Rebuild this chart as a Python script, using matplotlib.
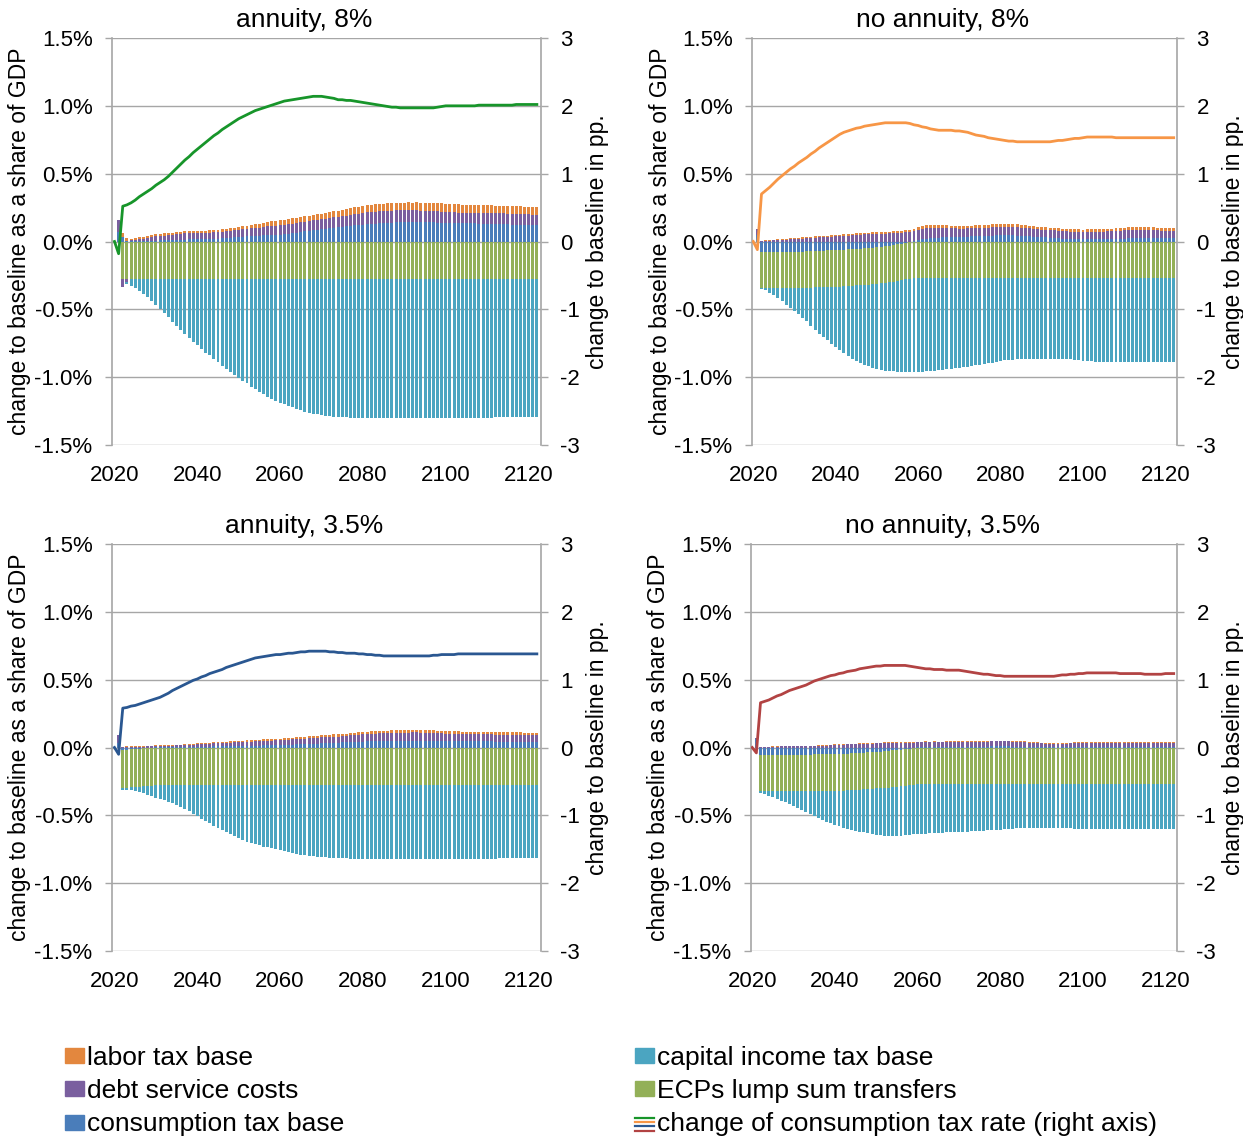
import numpy as np
import matplotlib
matplotlib.use('Agg')
import matplotlib.pyplot as plt
from matplotlib.patches import Patch
from matplotlib.lines import Line2D
from matplotlib.legend_handler import HandlerBase
from matplotlib.ticker import FuncFormatter

plt.rcParams['font.family'] = ['Liberation Sans', 'DejaVu Sans']
plt.rcParams['axes.unicode_minus'] = False

years = list(range(2020, 2123))

# ---------------- annuity, 8% ----------------
cons_a8 = [
    0, .07, .035, .005, .003, .003, .004, .005, .006, .007,
    .007, .008, .009, .01, .011, .012, .013, .014, .015, .015,
    .015, .016, .017, .018, .019, .021, .023, .025, .027, .03,
    .033, .035, .037, .039, .041, .043, .045, .047, .048, .049,
    .05, .054, .058, .062, .066, .07, .074, .078, .082, .086,
    .089, .093, .097, .101, .105, .108, .111, .115, .118, .121,
    .124, .127, .13, .132, .134, .136, .138, .14, .141, .142,
    .143, .143, .143, .143, .142, .142, .141, .141, .14, .14,
    .139, .138, .138, .137, .136, .135, .134, .133, .132, .132,
    .131, .13, .129, .128, .127, .126, .125, .124, .122, .121,
    .119, .118, .118,
]
debt_a8 = [
    0, .085, -.055, -.02, .005, .01, .013, .016, .02, .025,
    .03, .032, .035, .037, .04, .042, .044, .045, .046, .047,
    .047, .047, .048, .048, .049, .049, .05, .051, .052, .052,
    .053, .054, .055, .057, .058, .06, .062, .064, .066, .068,
    .069, .069, .07, .07, .071, .071, .072, .072, .073, .073,
    .074, .075, .076, .077, .077, .078, .08, .082, .083, .085,
    .086, .087, .088, .088, .089, .089, .089, .088, .088, .087,
    .087, .087, .086, .086, .085, .085, .084, .083, .082, .08,
    .079, .078, .077, .076, .075, .075, .076, .077, .078, .078,
    .079, .079, .079, .08, .08, .08, .08, .081, .081, .081,
    .081, .081, .081,
]
labor_a8 = [
    0, 0, .025, .02, .01, .012, .013, .014, .014, .015,
    .015, .015, .015, .015, .015, .015, .015, .015, .015, .015,
    .015, .015, .016, .016, .017, .017, .018, .018, .019, .019,
    .02, .022, .023, .025, .027, .028, .03, .032, .034, .036,
    .037, .038, .038, .039, .039, .04, .04, .041, .041, .042,
    .042, .043, .044, .045, .046, .047, .048, .049, .05, .051,
    .052, .053, .053, .054, .054, .055, .055, .056, .056, .057,
    .057, .058, .058, .059, .059, .06, .06, .061, .061, .062,
    .062, .062, .061, .061, .06, .06, .059, .059, .058, .058,
    .057, .057, .057, .056, .056, .056, .056, .055, .055, .055,
    .055, .055, .055,
]
ecp_a8 = [
    0, 0, -.28, -.28, -.28, -.28, -.28, -.28, -.28, -.28,
    -.28, -.28, -.28, -.28, -.28, -.28, -.28, -.28, -.28, -.28,
    -.28, -.28, -.28, -.28, -.28, -.28, -.28, -.28, -.28, -.28,
    -.28, -.28, -.28, -.28, -.28, -.28, -.28, -.28, -.28, -.28,
    -.28, -.28, -.28, -.28, -.28, -.28, -.28, -.28, -.28, -.28,
    -.28, -.28, -.28, -.28, -.28, -.28, -.28, -.28, -.28, -.28,
    -.28, -.28, -.28, -.28, -.28, -.28, -.28, -.28, -.28, -.28,
    -.28, -.28, -.28, -.28, -.28, -.28, -.28, -.28, -.28, -.28,
    -.28, -.28, -.28, -.28, -.28, -.28, -.28, -.28, -.28, -.28,
    -.28, -.28, -.28, -.28, -.28, -.28, -.28, -.28, -.28, -.28,
    -.28, -.28, -.28,
]
cap_a8 = [
    0, 0, 0, -.01, -.045, -.06, -.085, -.11, -.13, -.16,
    -.19, -.22, -.25, -.28, -.31, -.34, -.37, -.40, -.43, -.46,
    -.485, -.51, -.54, -.56, -.585, -.61, -.635, -.66, -.685, -.705,
    -.725, -.745, -.765, -.79, -.81, -.83, -.845, -.865, -.88, -.895,
    -.91, -.92, -.93, -.943, -.955, -.965, -.975, -.983, -.99, -.995,
    -1.0, -1.003, -1.005, -1.01, -1.013, -1.015, -1.017, -1.018, -1.019, -1.02,
    -1.02, -1.02, -1.02, -1.02, -1.02, -1.02, -1.02, -1.02, -1.02, -1.02,
    -1.02, -1.02, -1.02, -1.02, -1.02, -1.02, -1.02, -1.02, -1.02, -1.02,
    -1.02, -1.02, -1.02, -1.02, -1.02, -1.02, -1.02, -1.02, -1.02, -1.02,
    -1.02, -1.02, -1.015, -1.015, -1.015, -1.015, -1.015, -1.015, -1.015, -1.015,
    -1.015, -1.015, -1.015,
]
rate_a8 = [
    0, -.18, .52, .54, .57, .61, .66, .70, .74, .78,
    .83, .87, .91, .96, 1.02, 1.08, 1.14, 1.20, 1.25, 1.31,
    1.36, 1.41, 1.46, 1.51, 1.56, 1.60, 1.65, 1.69, 1.73, 1.77,
    1.81, 1.84, 1.87, 1.90, 1.93, 1.95, 1.97, 1.99, 2.01, 2.03,
    2.05, 2.07, 2.08, 2.09, 2.10, 2.11, 2.12, 2.13, 2.14, 2.14,
    2.14, 2.13, 2.12, 2.11, 2.09, 2.09, 2.08, 2.08, 2.07, 2.06,
    2.05, 2.04, 2.03, 2.02, 2.01, 2.00, 1.99, 1.98, 1.98, 1.97,
    1.97, 1.97, 1.97, 1.97, 1.97, 1.97, 1.97, 1.97, 1.98, 1.99,
    2.00, 2.00, 2.00, 2.00, 2.00, 2.00, 2.00, 2.00, 2.01, 2.01,
    2.01, 2.01, 2.01, 2.01, 2.01, 2.01, 2.01, 2.02, 2.02, 2.02,
    2.02, 2.02, 2.02,
]

# ---------------- no annuity, 8% ----------------
cons_n8 = [
    0, .05, -.076, -.076, -.076, -.076, -.076, -.076, -.076, -.076,
    -.076, -.075, -.074, -.073, -.071, -.069, -.068, -.067, -.066, -.065,
    -.064, -.062, -.06, -.058, -.056, -.054, -.052, -.05, -.047, -.045,
    -.042, -.038, -.034, -.03, -.025, -.02, -.015, -.01, -.005, .004,
    .012, .018, .022, .025, .027, .028, .03, .031, .032, .033,
    .034, .035, .036, .037, .038, .04, .041, .042, .044, .045,
    .047, .047, .046, .045, .044, .042, .04, .038, .036, .034,
    .033, .031, .029, .027, .024, .022, .02, .019, .018, .017,
    .016, .016, .016, .016, .016, .016, .017, .018, .019, .02,
    .022, .023, .024, .025, .026, .027, .027, .027, .027, .027,
    .027, .027, .027,
]
debt_n8 = [
    0, .045, .003, .005, .007, .008, .01, .012, .014, .016,
    .017, .019, .021, .024, .026, .028, .03, .032, .034, .036,
    .038, .04, .042, .044, .046, .048, .05, .052, .054, .055,
    .056, .057, .058, .06, .061, .063, .065, .067, .069, .072,
    .075, .077, .077, .076, .075, .075, .072, .068, .065, .063,
    .061, .06, .06, .06, .06, .06, .061, .061, .062, .062,
    .063, .063, .063, .062, .062, .061, .06, .059, .058, .056,
    .055, .055, .055, .055, .055, .055, .055, .054, .054, .054,
    .054, .055, .055, .055, .056, .056, .057, .058, .059, .06,
    .061, .061, .061, .061, .061, .061, .059, .057, .055, .054,
    .053, .053, .053,
]
labor_n8 = [
    0, 0, .003, .004, .005, .006, .006, .007, .007, .008,
    .008, .008, .009, .009, .009, .009, .01, .01, .01, .01,
    .01, .01, .011, .011, .011, .011, .012, .012, .012, .012,
    .012, .013, .013, .013, .014, .014, .015, .015, .016, .017,
    .018, .019, .019, .02, .02, .02, .02, .02, .02, .02,
    .02, .02, .02, .02, .02, .02, .02, .02, .02, .02,
    .02, .02, .02, .02, .02, .02, .02, .02, .02, .02,
    .02, .02, .019, .019, .018, .018, .018, .018, .018, .018,
    .018, .018, .018, .018, .018, .018, .019, .019, .02, .02,
    .02, .02, .02, .02, .02, .02, .02, .02, .02, .02,
    .02, .02, .02,
]
ecp_n8 = [
    0, 0, -.27, -.27, -.27, -.27, -.27, -.27, -.27, -.27,
    -.27, -.27, -.27, -.27, -.27, -.27, -.27, -.27, -.27, -.27,
    -.27, -.27, -.27, -.27, -.27, -.27, -.27, -.27, -.27, -.27,
    -.27, -.27, -.27, -.27, -.27, -.27, -.27, -.27, -.27, -.27,
    -.27, -.27, -.27, -.27, -.27, -.27, -.27, -.27, -.27, -.27,
    -.27, -.27, -.27, -.27, -.27, -.27, -.27, -.27, -.27, -.27,
    -.27, -.27, -.27, -.27, -.27, -.27, -.27, -.27, -.27, -.27,
    -.27, -.27, -.27, -.27, -.27, -.27, -.27, -.27, -.27, -.27,
    -.27, -.27, -.27, -.27, -.27, -.27, -.27, -.27, -.27, -.27,
    -.27, -.27, -.27, -.27, -.27, -.27, -.27, -.27, -.27, -.27,
    -.27, -.27, -.27,
]
cap_n8 = [
    0, 0, -.005, -.015, -.03, -.047, -.072, -.096, -.12, -.145,
    -.168, -.193, -.219, -.245, -.28, -.316, -.342, -.367, -.392, -.418,
    -.444, -.47, -.492, -.513, -.537, -.559, -.573, -.587, -.603, -.617,
    -.629, -.64, -.649, -.656, -.663, -.67, -.676, -.681, -.686, -.69,
    -.69, -.689, -.688, -.685, -.682, -.679, -.676, -.673, -.669, -.665,
    -.661, -.657, -.653, -.648, -.643, -.638, -.633, -.628, -.623, -.618,
    -.612, -.607, -.603, -.6, -.598, -.597, -.596, -.596, -.596, -.596,
    -.596, -.596, -.596, -.596, -.596, -.596, -.596, -.599, -.603, -.607,
    -.61, -.612, -.613, -.615, -.615, -.615, -.615, -.615, -.615, -.615,
    -.615, -.615, -.615, -.615, -.615, -.615, -.615, -.615, -.615, -.615,
    -.615, -.615, -.615,
]
rate_n8 = [
    0, -.12, .70, .75, .80, .86, .92, .97, 1.02, 1.07,
    1.11, 1.16, 1.20, 1.24, 1.29, 1.33, 1.38, 1.42, 1.46, 1.50,
    1.54, 1.58, 1.61, 1.63, 1.65, 1.67, 1.68, 1.70, 1.71, 1.72,
    1.73, 1.74, 1.75, 1.75, 1.75, 1.75, 1.75, 1.75, 1.74, 1.72,
    1.71, 1.69, 1.68, 1.66, 1.65, 1.64, 1.64, 1.64, 1.64, 1.63,
    1.63, 1.62, 1.61, 1.59, 1.57, 1.56, 1.55, 1.53, 1.52, 1.51,
    1.50, 1.49, 1.48, 1.48, 1.47, 1.47, 1.47, 1.47, 1.47, 1.47,
    1.47, 1.47, 1.47, 1.48, 1.49, 1.49, 1.50, 1.51, 1.52, 1.52,
    1.53, 1.54, 1.54, 1.54, 1.54, 1.54, 1.54, 1.54, 1.53, 1.53,
    1.53, 1.53, 1.53, 1.53, 1.53, 1.53, 1.53, 1.53, 1.53, 1.53,
    1.53, 1.53, 1.53,
]

# ---------------- annuity, 3.5% ----------------
cons_a3 = [
    0, .03, -.02, -.015, -.012, -.01, -.008, -.006, -.004, -.002,
    .001, .002, .002, .003, .003, .004, .004, .005, .005, .006,
    .006, .006, .007, .007, .008, .008, .008, .009, .009, .01,
    .01, .011, .012, .012, .013, .014, .015, .016, .017, .018,
    .019, .02, .021, .022, .023, .024, .025, .026, .027, .029,
    .03, .031, .032, .034, .035, .038, .039, .04, .041, .043,
    .044, .045, .046, .047, .047, .048, .048, .049, .049, .05,
    .05, .05, .05, .05, .049, .049, .049, .048, .048, .047,
    .047, .047, .047, .046, .046, .046, .046, .046, .045, .045,
    .045, .045, .044, .044, .044, .044, .043, .043, .043, .042,
    .042, .042, .042,
]
debt_a3 = [
    0, .06, .002, .004, .005, .006, .007, .007, .008, .008,
    .009, .009, .01, .01, .011, .011, .012, .013, .014, .016,
    .017, .018, .019, .021, .022, .023, .025, .026, .027, .029,
    .03, .03, .031, .031, .032, .032, .033, .033, .034, .034,
    .035, .036, .037, .038, .039, .04, .041, .042, .042, .043,
    .044, .045, .045, .046, .046, .047, .048, .049, .05, .051,
    .052, .053, .055, .056, .058, .059, .059, .06, .06, .06,
    .06, .06, .061, .061, .061, .061, .06, .059, .058, .057,
    .055, .054, .053, .053, .052, .052, .052, .051, .051, .051,
    .051, .051, .05, .05, .05, .05, .05, .05, .05, .05,
    .05, .05, .05,
]
labor_a3 = [
    0, 0, .003, .004, .004, .004, .004, .005, .005, .005,
    .005, .005, .005, .006, .006, .006, .006, .007, .007, .007,
    .008, .008, .008, .008, .009, .009, .009, .009, .01, .01,
    .01, .01, .011, .011, .011, .011, .011, .012, .012, .012,
    .012, .012, .013, .013, .013, .013, .014, .014, .014, .015,
    .015, .015, .015, .016, .016, .016, .016, .017, .017, .017,
    .018, .018, .018, .018, .018, .018, .018, .019, .019, .019,
    .019, .019, .019, .019, .019, .019, .019, .019, .019, .019,
    .019, .019, .019, .019, .019, .018, .018, .018, .018, .018,
    .018, .018, .018, .018, .018, .018, .018, .018, .018, .018,
    .018, .018, .018,
]
ecp_a3 = [
    0, 0, -.28, -.28, -.28, -.28, -.28, -.28, -.28, -.28,
    -.28, -.28, -.28, -.28, -.28, -.28, -.28, -.28, -.28, -.28,
    -.28, -.28, -.28, -.28, -.28, -.28, -.28, -.28, -.28, -.28,
    -.28, -.28, -.28, -.28, -.28, -.28, -.28, -.28, -.28, -.28,
    -.28, -.28, -.28, -.28, -.28, -.28, -.28, -.28, -.28, -.28,
    -.28, -.28, -.28, -.28, -.28, -.28, -.28, -.28, -.28, -.28,
    -.28, -.28, -.28, -.28, -.28, -.28, -.28, -.28, -.28, -.28,
    -.28, -.28, -.28, -.28, -.28, -.28, -.28, -.28, -.28, -.28,
    -.28, -.28, -.28, -.28, -.28, -.28, -.28, -.28, -.28, -.28,
    -.28, -.28, -.28, -.28, -.28, -.28, -.28, -.28, -.28, -.28,
    -.28, -.28, -.28,
]
cap_a3 = [
    0, 0, -.012, -.019, -.024, -.028, -.037, -.048, -.065, -.078,
    -.09, -.10, -.11, -.12, -.13, -.145, -.16, -.175, -.19, -.21,
    -.225, -.245, -.265, -.28, -.298, -.315, -.33, -.342, -.357, -.372,
    -.387, -.40, -.413, -.423, -.432, -.442, -.45, -.457, -.463, -.47,
    -.477, -.485, -.492, -.499, -.505, -.51, -.515, -.519, -.522, -.525,
    -.527, -.529, -.531, -.533, -.535, -.537, -.538, -.539, -.54, -.541,
    -.542, -.543, -.544, -.544, -.544, -.544, -.544, -.544, -.544, -.544,
    -.544, -.544, -.544, -.544, -.544, -.544, -.544, -.544, -.544, -.544,
    -.544, -.544, -.544, -.544, -.544, -.542, -.542, -.542, -.542, -.542,
    -.542, -.542, -.542, -.538, -.538, -.538, -.538, -.538, -.538, -.538,
    -.538, -.538, -.538,
]
rate_a3 = [
    0, -.10, .58, .59, .61, .62, .64, .66, .68, .70,
    .72, .74, .77, .80, .84, .87, .90, .93, .96, .99,
    1.01, 1.04, 1.06, 1.09, 1.11, 1.13, 1.15, 1.18, 1.20, 1.22,
    1.24, 1.26, 1.28, 1.30, 1.32, 1.33, 1.34, 1.35, 1.36, 1.37,
    1.37, 1.38, 1.39, 1.39, 1.40, 1.41, 1.41, 1.42, 1.42, 1.42,
    1.42, 1.42, 1.41, 1.41, 1.40, 1.40, 1.39, 1.39, 1.39, 1.38,
    1.38, 1.37, 1.37, 1.36, 1.36, 1.35, 1.35, 1.35, 1.35, 1.35,
    1.35, 1.35, 1.35, 1.35, 1.35, 1.35, 1.35, 1.36, 1.36, 1.37,
    1.37, 1.37, 1.37, 1.38, 1.38, 1.38, 1.38, 1.38, 1.38, 1.38,
    1.38, 1.38, 1.38, 1.38, 1.38, 1.38, 1.38, 1.38, 1.38, 1.38,
    1.38, 1.38, 1.38,
]

# ---------------- no annuity, 3.5% ----------------
cons_n3 = [
    0, .064, -.054, -.054, -.054, -.054, -.054, -.054, -.054, -.054,
    -.054, -.053, -.053, -.052, -.052, -.051, -.051, -.05, -.05, -.049,
    -.049, -.048, -.047, -.046, -.044, -.042, -.04, -.038, -.036, -.034,
    -.032, -.03, -.028, -.025, -.022, -.019, -.016, -.012, -.008, -.003,
    .002, .003, .004, .004, .005, .005, .005, .005, .005, .005,
    .005, .005, .006, .006, .006, .007, .007, .007, .008, .008,
    .008, .008, .008, .007, .007, .006, .006, .005, .005, .005,
    .004, .004, .004, .004, .004, .004, .004, .004, .004, .004,
    .004, .004, .004, .004, .004, .004, .004, .004, .004, .004,
    .004, .004, .004, .004, .004, .004, .004, .004, .004, .004,
    .004, .004, .004,
]
debt_n3 = [
    0, .008, .003, .004, .005, .006, .007, .008, .009, .009,
    .01, .01, .011, .011, .011, .011, .012, .013, .014, .018,
    .021, .022, .022, .023, .023, .024, .025, .026, .027, .029,
    .031, .031, .032, .032, .033, .033, .033, .034, .034, .034,
    .035, .035, .035, .034, .034, .033, .033, .034, .034, .035,
    .035, .035, .036, .036, .037, .037, .037, .037, .037, .037,
    .037, .037, .037, .036, .035, .034, .033, .031, .029, .027,
    .026, .025, .025, .024, .024, .024, .025, .026, .027, .029,
    .03, .03, .031, .031, .032, .032, .032, .032, .031, .031,
    .031, .031, .031, .031, .031, .031, .031, .031, .031, .031,
    .032, .032, .032,
]
labor_n3 = [
    0, 0, .001, .001, .001, .002, .002, .002, .002, .002,
    .002, .002, .003, .003, .003, .003, .003, .003, .004, .004,
    .005, .005, .005, .005, .005, .005, .005, .005, .005, .005,
    .005, .005, .005, .006, .006, .006, .006, .006, .006, .006,
    .006, .006, .006, .006, .006, .006, .006, .006, .006, .006,
    .006, .006, .006, .006, .006, .006, .006, .006, .006, .006,
    .006, .006, .006, .006, .006, .006, .006, .006, .006, .006,
    .006, .006, .006, .006, .006, .006, .006, .006, .006, .006,
    .006, .006, .006, .006, .006, .006, .006, .006, .006, .006,
    .006, .006, .006, .006, .006, .006, .006, .006, .006, .006,
    .006, .006, .006,
]
ecp_n3 = [
    0, 0, -.27, -.27, -.27, -.27, -.27, -.27, -.27, -.27,
    -.27, -.27, -.27, -.27, -.27, -.27, -.27, -.27, -.27, -.27,
    -.27, -.27, -.27, -.27, -.27, -.27, -.27, -.27, -.27, -.27,
    -.27, -.27, -.27, -.27, -.27, -.27, -.27, -.27, -.27, -.27,
    -.27, -.27, -.27, -.27, -.27, -.27, -.27, -.27, -.27, -.27,
    -.27, -.27, -.27, -.27, -.27, -.27, -.27, -.27, -.27, -.27,
    -.27, -.27, -.27, -.27, -.27, -.27, -.27, -.27, -.27, -.27,
    -.27, -.27, -.27, -.27, -.27, -.27, -.27, -.27, -.27, -.27,
    -.27, -.27, -.27, -.27, -.27, -.27, -.27, -.27, -.27, -.27,
    -.27, -.27, -.27, -.27, -.27, -.27, -.27, -.27, -.27, -.27,
    -.27, -.27, -.27,
]
cap_n3 = [
    0, 0, -.012, -.022, -.031, -.044, -.053, -.067, -.081, -.096,
    -.11, -.124, -.139, -.154, -.169, -.185, -.199, -.213, -.226, -.238,
    -.249, -.263, -.274, -.285, -.294, -.303, -.311, -.318, -.324, -.331,
    -.341, -.346, -.351, -.355, -.358, -.361, -.364, -.366, -.367, -.368,
    -.368, -.366, -.364, -.362, -.36, -.358, -.357, -.356, -.355, -.354,
    -.353, -.351, -.35, -.348, -.347, -.345, -.343, -.341, -.339, -.337,
    -.335, -.333, -.33, -.328, -.326, -.324, -.324, -.324, -.324, -.324,
    -.324, -.324, -.324, -.324, -.324, -.324, -.324, -.324, -.328, -.331,
    -.331, -.331, -.331, -.331, -.331, -.331, -.331, -.331, -.331, -.331,
    -.331, -.331, -.331, -.331, -.331, -.331, -.331, -.331, -.331, -.331,
    -.331, -.331, -.331,
]
rate_n3 = [
    0, -.08, .66, .68, .70, .73, .76, .78, .81, .84,
    .86, .88, .90, .92, .95, .98, 1.00, 1.02, 1.04, 1.06,
    1.07, 1.09, 1.10, 1.12, 1.13, 1.14, 1.16, 1.17, 1.18, 1.19,
    1.20, 1.20, 1.21, 1.21, 1.21, 1.21, 1.21, 1.21, 1.20, 1.19,
    1.18, 1.17, 1.16, 1.16, 1.15, 1.15, 1.15, 1.14, 1.14, 1.14,
    1.14, 1.13, 1.12, 1.11, 1.10, 1.09, 1.08, 1.08, 1.07, 1.06,
    1.06, 1.05, 1.05, 1.05, 1.05, 1.05, 1.05, 1.05, 1.05, 1.05,
    1.05, 1.05, 1.05, 1.05, 1.06, 1.07, 1.07, 1.08, 1.08, 1.09,
    1.09, 1.10, 1.10, 1.10, 1.10, 1.10, 1.10, 1.10, 1.10, 1.09,
    1.09, 1.09, 1.09, 1.09, 1.09, 1.08, 1.08, 1.08, 1.08, 1.08,
    1.09, 1.09, 1.09,
]

titles = ['annuity, 8%', 'no annuity, 8%', 'annuity, 3.5%', 'no annuity, 3.5%']
panel_data = [
    (cons_a8, ecp_a8, debt_a8, cap_a8, labor_a8, rate_a8),
    (cons_n8, ecp_n8, debt_n8, cap_n8, labor_n8, rate_n8),
    (cons_a3, ecp_a3, debt_a3, cap_a3, labor_a3, rate_a3),
    (cons_n3, ecp_n3, debt_n3, cap_n3, labor_n3, rate_n3),
]
for p, group in enumerate(panel_data):
    for s, arr in enumerate(group):
        if len(arr) != len(years):
            raise ValueError(f"panel {p} series {s} has {len(arr)} values")

# stacking order: consumption, ECPs, debt, capital, labor
bar_colors = ['#4A7DBA', '#93B058', '#7A5F9F', '#4BA5C1', '#E3873E']
line_colors = ['#17952A', '#F79646', '#2A5791', '#B24343']
grid_col = '#A6A6A6'

W, H = 1243, 1138
# pixel boxes (x0, y0, x1, y1) of the plot areas
boxes = [(112, 38, 541, 445), (752, 38, 1177, 445),
         (112, 544, 541, 951), (751, 544, 1177, 951)]
xlims = [(2019.4, 2123.0), (2019.7, 2122.8), (2019.4, 2123.0), (2019.7, 2122.8)]

fig = plt.figure(figsize=(W / 100, H / 100), dpi=100)
x = np.array(years)

for i, (x0, y0, x1, y1) in enumerate(boxes):
    ax = fig.add_axes([x0 / W, 1 - y1 / H, (x1 - x0) / W, (y1 - y0) / H])
    ax2 = ax.twinx()

    pos_bottom = np.zeros(len(years))
    neg_bottom = np.zeros(len(years))
    for vals, col in zip(panel_data[i][:5], bar_colors):
        v = np.array(vals, dtype=float)
        pos = np.where(v > 0, v, 0)
        neg = np.where(v < 0, v, 0)
        ax.bar(x, pos, bottom=pos_bottom, width=0.72, color=col, linewidth=0)
        ax.bar(x, neg, bottom=neg_bottom, width=0.72, color=col, linewidth=0)
        pos_bottom += pos
        neg_bottom += neg

    ax2.plot(x, panel_data[i][5], color=line_colors[i], linewidth=2.0, solid_joinstyle='round')

    ax.set_xlim(*xlims[i])
    ax.set_ylim(-1.5, 1.5)
    ax.set_yticks([-1.5, -1.0, -0.5, 0.0, 0.5, 1.0, 1.5])
    ax.yaxis.set_major_formatter(FuncFormatter(lambda v, pos: f"{v:.1f}%"))
    ax2.set_ylim(-3, 3)
    ax2.set_yticks([-3, -2, -1, 0, 1, 2, 3])
    ax2.yaxis.set_major_formatter(FuncFormatter(lambda v, pos: f"{int(round(v))}"))

    ax.set_xticks([2020, 2040, 2060, 2080, 2100, 2120])
    ax.tick_params(axis='x', length=0, pad=14.5, labelsize=16)
    ax.tick_params(axis='y', length=5, width=1, color=grid_col, pad=9, labelsize=16)
    ax2.tick_params(axis='y', length=5, width=1, color=grid_col, pad=9, labelsize=16)

    ax.grid(axis='y', color=grid_col, linewidth=1.0)
    ax.set_axisbelow(True)
    for name in ['top', 'bottom', 'right']:
        ax.spines[name].set_visible(False)
    for name in ['top', 'bottom', 'left']:
        ax2.spines[name].set_visible(False)
    ax.spines['left'].set_color(grid_col)
    ax.spines['left'].set_linewidth(1.2)
    ax2.spines['right'].set_color(grid_col)
    ax2.spines['right'].set_linewidth(1.2)

    ax.set_ylabel('change to baseline as a share of GDP', fontsize=16.5)
    ax.yaxis.set_label_coords(-0.189, 0.5)
    ax2.set_ylabel('change to baseline in pp.', fontsize=16.5)
    ax2.yaxis.set_label_coords(1.105, 0.5)
    # the titles sit centred over the whole panel, labels included
    ax.set_title(titles[i], fontsize=19, pad=8, x=0.449)


class FourLineHandler(HandlerBase):
    def create_artists(self, legend, orig_handle, xdescent, ydescent,
                       width, height, fontsize, trans):
        artists = []
        for k, col in enumerate(line_colors):
            yy = height * (0.75 - 0.27 * k) - ydescent
            ln = Line2D([-xdescent, -xdescent + width], [yy, yy],
                        color=col, linewidth=1.6, transform=trans)
            artists.append(ln)
        return artists


combo = Line2D([], [])
leg_kw = dict(loc='upper left', frameon=False, fontsize=19, handlelength=0.72,
              handleheight=0.5, handletextpad=0.12, labelspacing=0.35,
              borderpad=0, borderaxespad=0)
fig.legend([Patch(color=bar_colors[4]), Patch(color=bar_colors[2]), Patch(color=bar_colors[0])],
           ['labor tax base', 'debt service costs', 'consumption tax base'],
           bbox_to_anchor=(65 / W, 1 - 1046 / H), **leg_kw)
fig.legend([Patch(color=bar_colors[3]), Patch(color=bar_colors[1]), combo],
           ['capital income tax base', 'ECPs lump sum transfers',
            'change of consumption tax rate (right axis)'],
           handler_map={combo: FourLineHandler()},
           bbox_to_anchor=(635 / W, 1 - 1046 / H), **leg_kw)

fig.savefig('out.png', dpi=100, facecolor='white')
